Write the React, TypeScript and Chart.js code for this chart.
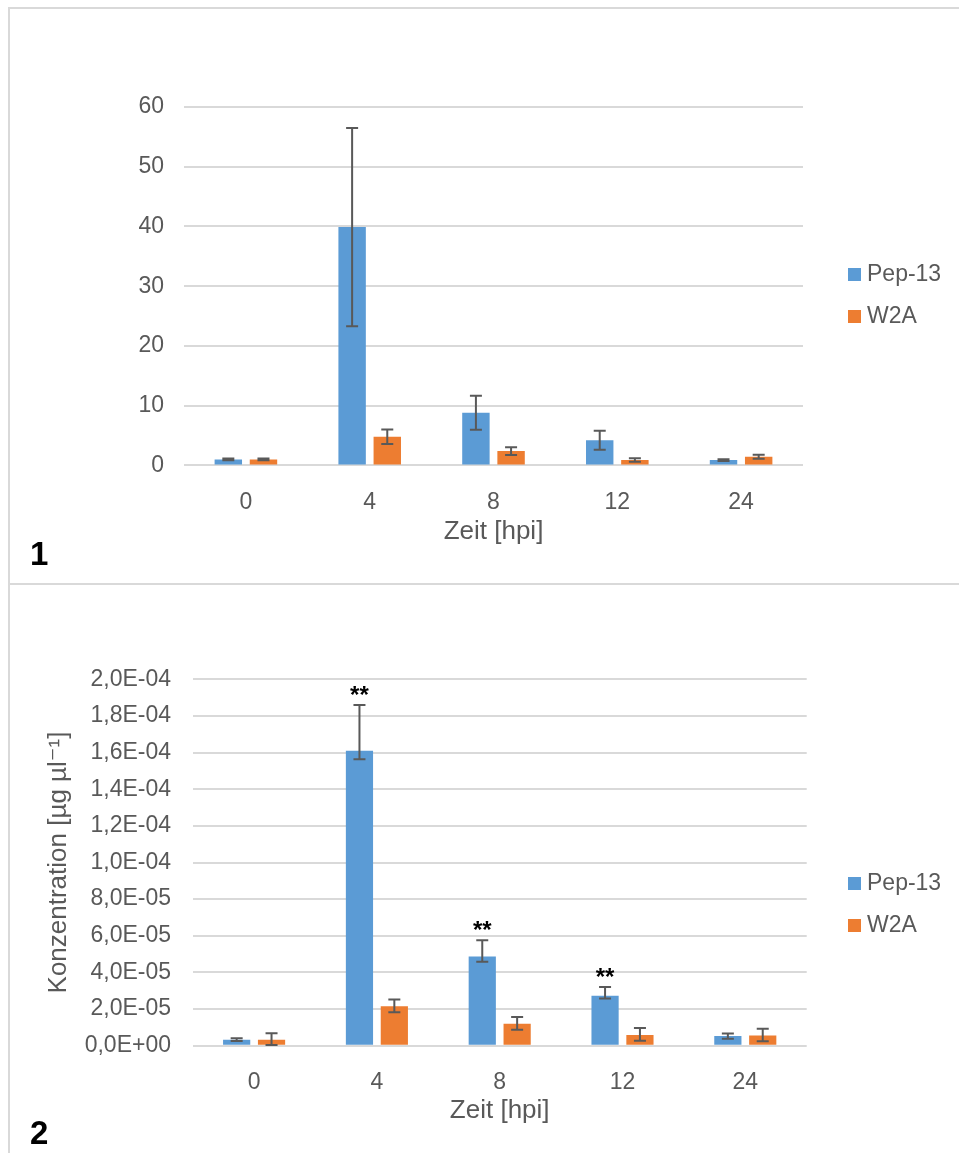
import React, { useEffect, useRef } from "react";
import { Chart, registerables } from "chart.js";

Chart.register(...registerables);

// ---------- data ----------
const categories = ["0", "4", "8", "12", "24"];
const seriesNames = ["Pep-13", "W2A"];

// Panel 1 (relative values)
const pep13Panel1 = [1.0, 39.9, 8.8, 4.2, 0.9];
const pep13Panel1Err = [0.15, 16.6, 2.85, 1.6, 0.15];
const w2aPanel1 = [1.0, 4.8, 2.4, 0.9, 1.45];
const w2aPanel1Err = [0.15, 1.2, 0.65, 0.3, 0.35];
const yTickValues1 = [0, 10, 20, 30, 40, 50, 60];
const yTickLabels1 = ["0", "10", "20", "30", "40", "50", "60"];

// Panel 2 (concentration)
const pep13Panel2 = [3.3e-6, 1.61e-4, 4.87e-5, 2.72e-5, 5.3e-6];
const pep13Panel2ErrPlus = [0.8e-6, 2.5e-5, 8.9e-6, 4.9e-6, 1.3e-6];
const pep13Panel2ErrMinus = [0.8e-6, 4.6e-6, 2.9e-6, 1.5e-6, 1.5e-6];
const w2aPanel2 = [3.3e-6, 2.15e-5, 1.2e-5, 5.8e-6, 5.5e-6];
const w2aPanel2ErrPlus = [3.5e-6, 3.7e-6, 3.7e-6, 3.9e-6, 3.8e-6];
const w2aPanel2ErrMinus = [2.9e-6, 3.3e-6, 3.3e-6, 3.1e-6, 3.1e-6];
const pep13Panel2Marks = ["", "**", "**", "**", ""];
const yTickValues2 = [0, 2e-5, 4e-5, 6e-5, 8e-5, 1e-4, 1.2e-4, 1.4e-4, 1.6e-4, 1.8e-4, 2e-4];
const yTickLabels2 = [
  "0,0E+00", "2,0E-05", "4,0E-05", "6,0E-05", "8,0E-05", "1,0E-04",
  "1,2E-04", "1,4E-04", "1,6E-04", "1,8E-04", "2,0E-04",
];

const xTitle = "Zeit [hpi]";
const yTitle2 = "Konzentration [µg µl⁻¹]";

// ---------- styles ----------
const FONT = "'Liberation Sans', Arial, 'DejaVu Sans', sans-serif";
const BLUE = "#5B9BD5";
const ORANGE = "#ED7D31";
const TEXT = "#595959";
const GRID = "#D9D9D9";

const errorBarPlugin = {
  id: "errorBars",
  afterDatasetsDraw(chart: any, _args: any, opts: any) {
    const { ctx } = chart;
    const y = chart.scales.y;
    chart.data.datasets.forEach((ds: any, di: number) => {
      const meta = chart.getDatasetMeta(di);
      if (!ds.errPlus) return;
      meta.data.forEach((bar: any, i: number) => {
        const v = ds.data[i];
        const yTop = y.getPixelForValue(v + ds.errPlus[i]);
        const yBot = y.getPixelForValue(Math.max(0, v - ds.errMinus[i]));
        const x = bar.x;
        const c = opts.cap / 2;
        ctx.save();
        ctx.strokeStyle = opts.color;
        ctx.lineWidth = opts.width;
        ctx.beginPath();
        ctx.moveTo(x, yTop);
        ctx.lineTo(x, yBot);
        ctx.moveTo(x - c, yTop);
        ctx.lineTo(x + c, yTop);
        ctx.moveTo(x - c, yBot);
        ctx.lineTo(x + c, yBot);
        ctx.stroke();
        const mark = ds.marks ? ds.marks[i] : "";
        if (mark) {
          ctx.fillStyle = "#000";
          ctx.font = `bold 24px ${FONT}`;
          ctx.textAlign = "center";
          ctx.textBaseline = "alphabetic";
          ctx.fillText(mark, x, yTop - opts.markGap);
        }
        ctx.restore();
      });
    });
  },
};

const sideLegendPlugin = {
  id: "sideLegend",
  afterDraw(chart: any, _args: any, opts: any) {
    const { ctx } = chart;
    const n = chart.data.datasets.length;
    const startY = opts.centerY - ((n - 1) * opts.spacing) / 2;
    chart.data.datasets.forEach((ds: any, i: number) => {
      const cy = startY + i * opts.spacing;
      ctx.save();
      ctx.fillStyle = ds.backgroundColor;
      ctx.fillRect(opts.x, cy - opts.box / 2, opts.box, opts.box);
      ctx.fillStyle = TEXT;
      ctx.font = `${opts.size}px ${FONT}`;
      ctx.textAlign = "left";
      ctx.textBaseline = "middle";
      ctx.fillText(ds.label, opts.x + opts.textGap, cy);
      ctx.restore();
    });
  },
};

type PanelCfg = {
  width: number;
  height: number;
  datasets: any[];
  yMax: number;
  yTickValues: number[];
  yTickLabels: string[];
  yTitle?: string;
  padTop: number;
  padRight: number;
  yAxisWidth: number;
  yLabelPad: number;
  yTitlePad: number;
  xAxisHeight: number;
  xLabelPad: number;
  xTitlePadBottom: number;
  legendCenterY: number;
};

function BarPanel({ cfg }: { cfg: PanelCfg }) {
  const ref = useRef<HTMLCanvasElement | null>(null);
  useEffect(() => {
    if (!ref.current) return;
    const chart = new Chart(ref.current, {
      type: "bar",
      data: { labels: categories, datasets: cfg.datasets },
      plugins: [errorBarPlugin, sideLegendPlugin],
      options: {
        responsive: false,
        animation: false,
        devicePixelRatio: 1,
        layout: { padding: { top: cfg.padTop, right: cfg.padRight, left: 0, bottom: 0 } },
        plugins: {
          legend: { display: false },
          tooltip: { enabled: false },
          errorBars: { color: "#595959", width: 2, cap: 12, markGap: 2 },
          sideLegend: { x: 838, centerY: cfg.legendCenterY, spacing: 42, box: 13, textGap: 19, size: 23 },
        } as any,
        scales: {
          x: {
            grid: { display: false },
            border: { display: false },
            ticks: { color: TEXT, font: { family: FONT, size: 23 }, padding: cfg.xLabelPad },
            title: {
              display: true,
              text: xTitle,
              color: TEXT,
              font: { family: FONT, size: 26 },
              padding: { top: 0, bottom: cfg.xTitlePadBottom },
            },
            afterFit: (axis: any) => {
              axis.height = cfg.xAxisHeight;
            },
          },
          y: {
            min: 0,
            max: cfg.yMax,
            grid: { color: GRID, lineWidth: 2, drawTicks: false },
            border: { display: false },
            ticks: {
              color: TEXT,
              font: { family: FONT, size: 23 },
              padding: cfg.yLabelPad,
              callback: (_v: any, i: number) => cfg.yTickLabels[i],
            },
            title: {
              display: !!cfg.yTitle,
              text: cfg.yTitle || "",
              color: TEXT,
              font: { family: FONT, size: 26 },
              padding: { top: cfg.yTitlePad, bottom: 0 },
            },
            afterBuildTicks: (axis: any) => {
              axis.ticks = cfg.yTickValues.map((v) => ({ value: v }));
            },
            afterFit: (axis: any) => {
              axis.width = cfg.yAxisWidth;
            },
          },
        },
        datasets: { bar: { barPercentage: 0.78, categoryPercentage: 0.568 } },
      } as any,
    });
    return () => chart.destroy();
  }, []);
  return <canvas ref={ref} width={cfg.width} height={cfg.height} style={{ display: "block" }} />;
}

const panel1: PanelCfg = {
  width: 949,
  height: 574,
  datasets: [
    { label: seriesNames[0], data: pep13Panel1, backgroundColor: BLUE, errPlus: pep13Panel1Err, errMinus: pep13Panel1Err },
    { label: seriesNames[1], data: w2aPanel1, backgroundColor: ORANGE, errPlus: w2aPanel1Err, errMinus: w2aPanel1Err },
  ],
  yMax: 60,
  yTickValues: yTickValues1,
  yTickLabels: yTickLabels1,
  padTop: 98,
  padRight: 156,
  yAxisWidth: 174,
  yLabelPad: 20,
  yTitlePad: 0,
  xAxisHeight: 117.6,
  xLabelPad: 15.8,
  xTitlePadBottom: 35.8,
  legendCenterY: 286.5,
};

const panel2: PanelCfg = {
  width: 949,
  height: 568,
  datasets: [
    {
      label: seriesNames[0],
      data: pep13Panel2,
      backgroundColor: BLUE,
      errPlus: pep13Panel2ErrPlus,
      errMinus: pep13Panel2ErrMinus,
      marks: pep13Panel2Marks,
    },
    { label: seriesNames[1], data: w2aPanel2, backgroundColor: ORANGE, errPlus: w2aPanel2ErrPlus, errMinus: w2aPanel2ErrMinus },
  ],
  yMax: 2e-4,
  yTickValues: yTickValues2,
  yTickLabels: yTickLabels2,
  yTitle: yTitle2,
  padTop: 94.3,
  padRight: 152.3,
  yAxisWidth: 182.7,
  yLabelPad: 21.7,
  yTitlePad: 33.4,
  xAxisHeight: 107.3,
  xLabelPad: 15,
  xTitlePadBottom: 26.4,
  legendCenterY: 319.5,
};

export default function App() {
  const border = "2px solid #D9D9D9";
  return (
    <div
      style={{
        position: "fixed",
        left: 0,
        top: 0,
        width: 959,
        height: 1153,
        overflow: "hidden",
        background: "#fff",
      }}
    >
      <div style={{ position: "absolute", left: 8, top: 7, width: 951, height: 576, borderTop: border, borderLeft: border }} />
      <div style={{ position: "absolute", left: 8, top: 583, width: 951, height: 600, borderTop: border, borderLeft: border }} />
      <div style={{ position: "absolute", left: 10, top: 9 }}>
        <BarPanel cfg={panel1} />
      </div>
      <div style={{ position: "absolute", left: 10, top: 585 }}>
        <BarPanel cfg={panel2} />
      </div>
      <div
        style={{
          position: "absolute",
          left: 30,
          top: 537,
          fontFamily: FONT,
          fontWeight: "bold",
          fontSize: 33,
          lineHeight: 1,
          color: "#000",
        }}
      >
        1
      </div>
      <div
        style={{
          position: "absolute",
          left: 30,
          top: 1116,
          fontFamily: FONT,
          fontWeight: "bold",
          fontSize: 33,
          lineHeight: 1,
          color: "#000",
        }}
      >
        2
      </div>
    </div>
  );
}
